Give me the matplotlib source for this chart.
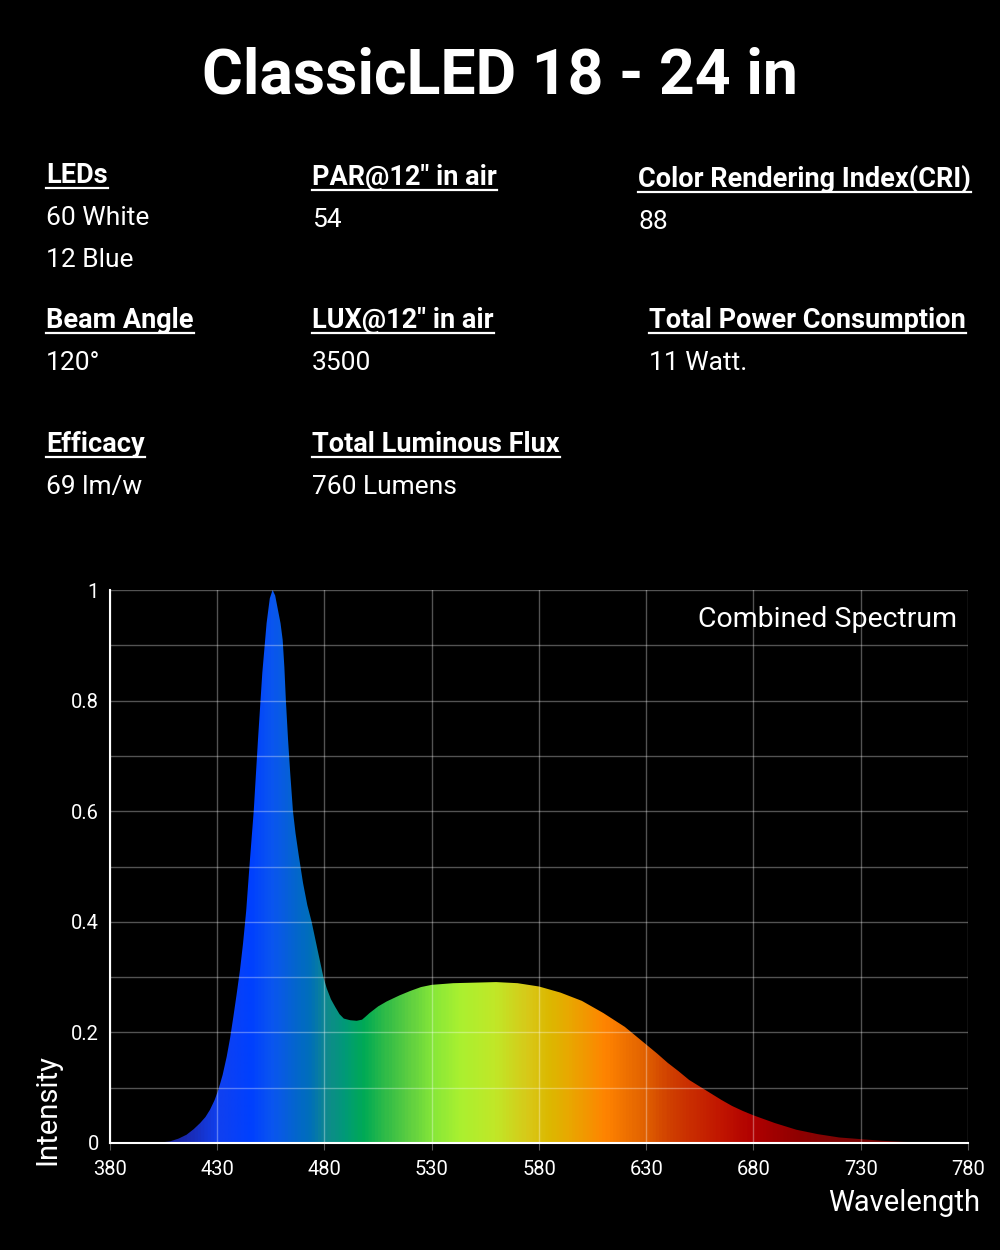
import numpy as np
import matplotlib
matplotlib.use("Agg")
import matplotlib.pyplot as plt
from matplotlib.colors import LinearSegmentedColormap
from matplotlib.lines import Line2D

# combined spectrum
wavelength = [380, 400, 404, 408, 412, 415.7, 419, 422, 424.5, 426.6, 428.7, 430.5,
              432.5, 434.4, 436, 437.5, 439, 440.6, 442, 443.5, 445, 447, 449, 451,
              453, 454.5, 455.8, 457, 458, 459.5, 460.5, 461.3, 462, 463, 464, 465.3,
              466.5, 468, 470, 472, 474, 477, 479.5, 481, 483, 485, 487, 489, 492,
              495, 497.5, 499, 501, 505, 509, 515, 520, 525, 530, 540, 550, 560, 570,
              580, 590, 600, 610, 620, 630, 635, 640, 645, 650, 655, 660, 665, 670,
              675, 680, 685, 690, 695, 700, 710, 720, 730, 740, 750, 760, 770, 780]
intensity = [0, 0, 0.001, 0.003, 0.008, 0.015, 0.025, 0.036, 0.047, 0.06, 0.077,
             0.096, 0.123, 0.156, 0.19, 0.228, 0.268, 0.313, 0.36, 0.42, 0.5, 0.6,
             0.73, 0.85, 0.94, 0.985, 1.0, 0.99, 0.97, 0.94, 0.91, 0.86, 0.80, 0.73,
             0.67, 0.60, 0.56, 0.52, 0.47, 0.43, 0.40, 0.345, 0.30, 0.28, 0.26, 0.246,
             0.233, 0.225, 0.222, 0.221, 0.223, 0.228, 0.235, 0.247, 0.256, 0.267,
             0.275, 0.282, 0.286, 0.289, 0.29, 0.291, 0.289, 0.283, 0.272, 0.257,
             0.235, 0.21, 0.178, 0.162, 0.145, 0.13, 0.114, 0.102, 0.09, 0.078,
             0.067, 0.058, 0.05, 0.043, 0.036, 0.03, 0.024, 0.016, 0.01, 0.007,
             0.004, 0.002, 0.001, 0, 0]

x_ticks = [380, 430, 480, 530, 580, 630, 680, 730, 780]
y_ticks = [0, 0.2, 0.4, 0.6, 0.8, 1]
y_tick_labels = ["0", "0.2", "0.4", "0.6", "0.8", "1"]
y_minor = [0.1, 0.3, 0.5, 0.7, 0.9]

# fill colour along the wavelength axis
band_nm = [380, 415, 430, 445, 455, 473, 481, 489, 498, 508, 520, 531, 543, 559,
           575, 585, 594, 611, 630, 641, 653, 666, 680, 701, 717, 780]
band_colors = ["#101060", "#1a2ab0", "#1040f0", "#0040ff", "#0a55f0", "#0070b8",
               "#108a8c", "#009a78", "#00aa55", "#30bb48", "#60d040", "#88e838",
               "#aaf030", "#c0e828", "#d8c818", "#dcb800", "#e8a800", "#ff8400",
               "#e06000", "#d04000", "#c82a00", "#c01400", "#b00000", "#900000",
               "#800505", "#600000"]

title = "ClassicLED 18 - 24 in"
spec_headers = ["LEDs", "PAR@12\" in air", "Color Rendering Index(CRI)",
                "Beam Angle", "LUX@12\" in air", "Total Power Consumption",
                "Efficacy", "Total Luminous Flux"]
spec_values = [["60 White", "12 Blue"], ["54"], ["88"],
               ["120°"], ["3500"], ["11 Watt."],
               ["69 lm/w"], ["760 Lumens"]]

# layout of the spec block, in pixels from top-left (x, header baseline)
spec_pos = [(46, 183), (312, 185), (638, 187),
            (46, 328), (312, 328), (649, 328),
            (46, 452), (312, 452)]

W, H = 1000, 1250
plt.rcParams["font.family"] = ["Roboto", "DejaVu Sans"]

fig = plt.figure(figsize=(10, 12.5), dpi=100, facecolor="black")


def fx(x):
    return x / W


def fy(y):
    return 1 - y / H


fig.text(fx(500), fy(93), title, ha="center", va="baseline", color="white",
         fontsize=45, fontweight="bold")

renderer = fig.canvas.get_renderer()
for head, vals, (x, y) in zip(spec_headers, spec_values, spec_pos):
    t = fig.text(fx(x), fy(y), head, ha="left", va="baseline", color="white",
                 fontsize=19.5, fontweight="bold")
    bb = t.get_window_extent(renderer=renderer)
    fig.add_artist(Line2D([bb.x0 / W, bb.x1 / W], [fy(y + 5), fy(y + 5)],
                          color="white", lw=1.6, transform=fig.transFigure))
    for i, v in enumerate(vals):
        fig.text(fx(x), fy(y + 42 * (i + 1)), v, ha="left", va="baseline",
                 color="white", fontsize=19, fontweight="normal")

# spectrum chart
ax = fig.add_axes([110 / W, 1 - 1143 / H, 858 / W, 553 / H])
ax.set_facecolor("black")

cmap = LinearSegmentedColormap.from_list(
    "spectrum", [((n - 380) / 400, c) for n, c in zip(band_nm, band_colors)])
grad = np.linspace(380, 780, 800)[None, :]
im = ax.imshow(grad, cmap=cmap, vmin=380, vmax=780, extent=(380, 780, 0, 1),
               aspect="auto", origin="lower", zorder=1, interpolation="bilinear")
poly = ax.fill_between(wavelength, intensity, 0, facecolor="none", edgecolor="none")
im.set_clip_path(poly.get_paths()[0], transform=ax.transData)

ax.set_xlim(380, 780)
ax.set_ylim(0, 1)
ax.set_xticks(x_ticks)
ax.set_xticklabels([str(v) for v in x_ticks])
ax.set_yticks(y_ticks)
ax.set_yticklabels(y_tick_labels)
ax.set_yticks(y_minor, minor=True)
ax.grid(True, which="both", color="white", alpha=0.33, lw=1.0, zorder=2)
ax.set_axisbelow(False)

ax.tick_params(axis="y", which="both", length=0, pad=8, labelsize=14.5,
               labelcolor="white")
ax.tick_params(axis="x", which="both", length=5, color="#5a5a5a", pad=7,
               labelsize=14.5, labelcolor="white")

for side in ["top", "right"]:
    ax.spines[side].set_visible(False)
for side in ["left", "bottom"]:
    ax.spines[side].set_color("white")
    ax.spines[side].set_linewidth(1.5)
    ax.spines[side].set_zorder(3)

ax.text(0.987, 0.933, "Combined Spectrum", transform=ax.transAxes, ha="right",
        va="baseline", color="white", fontsize=20.5)

fig.text(fx(47), fy(1110), "Intensity", rotation=90, ha="center", va="center",
         color="white", fontsize=21)
fig.text(fx(980), fy(1211), "Wavelength", ha="right", va="baseline",
         color="white", fontsize=21)

fig.savefig("out.png", dpi=100, facecolor="black")
